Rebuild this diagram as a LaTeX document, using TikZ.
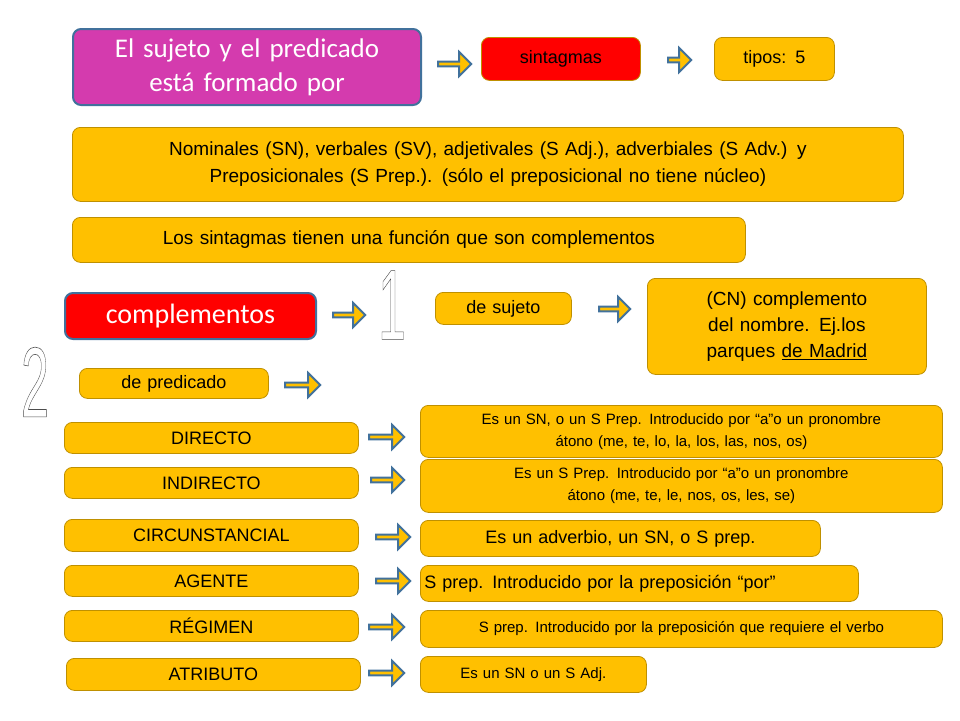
\documentclass[tikz,border=0pt]{standalone}
\usepackage{fontspec}
\setmainfont{Liberation Sans}
\newfontfamily\calib{Carlito}
\usetikzlibrary{shapes.arrows}
\definecolor{naranja}{HTML}{FFC000}
\definecolor{borde}{HTML}{BF9000}
\definecolor{azul}{HTML}{41719C}
\definecolor{magenta}{HTML}{D43BAE}
\tikzset{caja/.style={draw=borde,fill=naranja,rounded corners=8pt,thick,
    align=center,inner sep=2pt,font=\fontsize{18}{21}\selectfont},
  roja/.style={caja,fill=red,draw=azul},
  flecha/.style={single arrow,draw=azul,fill=naranja,line width=2pt,
    minimum height=32pt,minimum width=24pt,single arrow head extend=4pt,inner sep=0pt},
  cifra/.style={font=\fontsize{100}{100}\selectfont,xscale=0.5,text=white}}
% caja entre dos esquinas (en pixeles)
\newcommand{\Caja}[7]{%
  \node[#6,anchor=north west,minimum width={(#4-#2)*1pt},minimum height={(#5-#3)*1pt},
    text width={(#4-#2-8)*1pt}] (#1) at (#2,#3) {#7};}
\newcommand{\Flecha}[4]{%
  \node[flecha,minimum height={(#3-#2)*1pt}] (#1) at ({(#2+#3)/2},#4) {};}
\newcommand{\Hueco}[1]{\special{pdf:literal direct 1 Tr 0.6 w 0.3 G}#1\special{pdf:literal direct 0 Tr}}
\begin{document}
\begin{tikzpicture}[x=1pt,y=-1pt]
\useasboundingbox (0,0) rectangle (960,720);

\Caja{titulo}{72}{28}{420}{104}{caja,fill=magenta,draw=azul,line width=2pt,text=white,font=\calib\fontsize{27}{34}\selectfont}{El sujeto y el predicado\\está formado por}
\Flecha{f1}{437}{470}{64}
\Caja{sintagmas}{481}{37}{640}{80}{roja,draw=borde}{sintagmas}
\Flecha{f2}{667}{690}{60}
\Caja{tipos}{714}{37}{834}{80}{caja}{tipos: 5}

\Caja{clases}{72}{127}{903}{201}{caja,font=\fontsize{19}{27}\selectfont}{Nominales (SN), verbales (SV), adjetivales (S Adj.), adverbiales (S Adv.) y\\Preposicionales (S Prep.). (sólo el preposicional no tiene núcleo)}
\Caja{funcion}{72}{217}{745}{262}{caja,font=\fontsize{19}{22}\selectfont}{Los sintagmas tienen una función que son complementos}

\Caja{complementos}{64}{292}{315}{338}{roja,line width=2pt,text=white,font=\calib\fontsize{28}{32}\selectfont}{complementos}
\Flecha{f3}{332}{364}{315}
\node[cifra] (uno) at (392,305) {\Hueco{1}};
\Caja{sujeto}{435}{292}{571}{324}{caja}{de sujeto}
\Flecha{f4}{598}{629}{309}
\Caja{cn}{647}{278}{926}{374}{caja,font=\fontsize{19}{26}\selectfont}{(CN) complemento\\del nombre. Ej.los\\parques \underline{de Madrid}}

\node[cifra] (dos) at (35,382) {\Hueco{2}};
\Caja{predicado}{79}{368}{268}{398}{caja}{de predicado}
\Flecha{f5}{284}{319}{385}

\Caja{directo}{64}{422}{358}{453}{caja}{DIRECTO}
\Flecha{f6}{368}{403}{437}
\Caja{ddirecto}{420}{405}{942}{457}{caja,font=\fontsize{15}{22}\selectfont}{Es un SN, o un S Prep. Introducido por “a”o un pronombre\\átono (me, te, lo, la, los, las, nos, os)}

\Caja{indirecto}{64}{467}{358}{498}{caja}{INDIRECTO}
\Flecha{f7}{370}{403}{480}
\Caja{dindirecto}{420}{459}{942}{512}{caja,font=\fontsize{15}{22}\selectfont}{Es un S Prep. Introducido por “a”o un pronombre\\átono (me, te, le, nos, os, les, se)}

\Caja{circ}{64}{519}{358}{551}{caja}{CIRCUNSTANCIAL}
\Flecha{f8}{375}{409}{537}
\Caja{dcirc}{420}{520}{820}{556}{caja}{Es un adverbio, un SN, o S prep.}

\Caja{agente}{64}{565}{358}{596}{caja}{AGENTE}
\Flecha{f9}{375}{409}{581}
\Caja{dagente}{420}{565}{858}{601}{caja,align=left}{S prep. Introducido por la preposición “por”}

\Caja{regimen}{64}{610}{358}{641}{caja}{RÉGIMEN}
\Flecha{f10}{368}{403}{627}
\Caja{dregimen}{420}{610}{942}{647}{caja,font=\fontsize{15}{17}\selectfont}{S prep. Introducido por la preposición que requiere el verbo}

\Caja{atributo}{66}{658}{360}{690}{caja}{ATRIBUTO}
\Flecha{f11}{368}{403}{673}
\Caja{datributo}{420}{656}{646}{692}{caja,font=\fontsize{15}{17}\selectfont}{Es un SN o un S Adj.}
\end{tikzpicture}
\end{document}
